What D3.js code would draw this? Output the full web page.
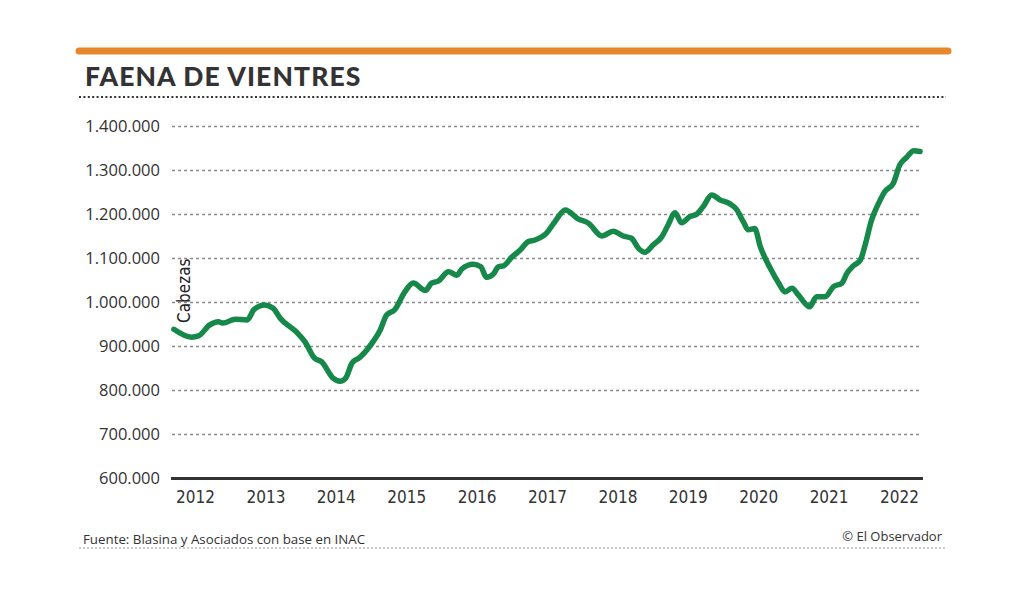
<!DOCTYPE html>
<html>
<head>
<meta charset="utf-8">
<script src="https://cdn.jsdelivr.net/npm/d3@7/dist/d3.min.js"></script>
<style>
  html, body { margin: 0; padding: 0; background: #ffffff; }
  svg { display: block; }
</style>
</head>
<body>
<svg id="chart" width="1024" height="597"></svg>
<script>
// ---- Data ----
const titulo = "FAENA DE VIENTRES";
const fuente = "Fuente: Blasina y Asociados con base en INAC";
const credito = "© El Observador";
const ejeY = "Cabezas";

// time as decimal year
const fecha = [2011.70, 2011.95, 2012.05, 2012.21, 2012.33, 2012.40, 2012.57, 2012.74, 2012.84, 2012.99,
  2013.11, 2013.21, 2013.44, 2013.56, 2013.70, 2013.80, 2013.96, 2014.06, 2014.14, 2014.23,
  2014.34, 2014.53, 2014.63, 2014.72, 2014.84, 2014.98, 2015.10, 2015.27, 2015.36, 2015.46,
  2015.60, 2015.72, 2015.79, 2015.95, 2016.06, 2016.14, 2016.24, 2016.31, 2016.38, 2016.50,
  2016.62, 2016.73, 2016.83, 2016.99, 2017.11, 2017.26, 2017.44, 2017.59, 2017.78, 2017.94,
  2018.08, 2018.20, 2018.30, 2018.39, 2018.51, 2018.63, 2018.72, 2018.82, 2018.91, 2019.03,
  2019.13, 2019.22, 2019.34, 2019.46, 2019.60, 2019.69, 2019.79, 2019.86, 2019.95, 2020.03,
  2020.17, 2020.29, 2020.38, 2020.48, 2020.57, 2020.69, 2020.73, 2020.83, 2020.95, 2021.07,
  2021.19, 2021.26, 2021.35, 2021.45, 2021.52, 2021.61, 2021.71, 2021.80, 2021.92, 2022.01,
  2022.11, 2022.21, 2022.30];

const cabezas = [938000, 920000, 923000, 948000, 955000, 952000, 961000, 959000, 983000, 993000,
  986000, 963000, 932000, 910000, 872000, 864000, 827000, 820000, 827000, 861000,
  874000, 910000, 936000, 970000, 983000, 1023000, 1043000, 1026000, 1043000, 1048000,
  1069000, 1061000, 1075000, 1086000, 1080000, 1056000, 1064000, 1080000, 1082000, 1102000,
  1118000, 1137000, 1141000, 1156000, 1182000, 1209000, 1189000, 1179000, 1150000, 1161000,
  1150000, 1145000, 1122000, 1113000, 1130000, 1148000, 1175000, 1203000, 1180000, 1194000,
  1200000, 1217000, 1243000, 1232000, 1223000, 1211000, 1182000, 1164000, 1167000, 1126000,
  1077000, 1043000, 1023000, 1031000, 1016000, 993000, 989000, 1012000, 1012000, 1035000,
  1043000, 1065000, 1082000, 1095000, 1130000, 1186000, 1224000, 1251000, 1270000, 1311000,
  1329000, 1344000, 1342000];

const anios = [2012, 2013, 2014, 2015, 2016, 2017, 2018, 2019, 2020, 2021, 2022];
const ticksY = [600000, 700000, 800000, 900000, 1000000, 1100000, 1200000, 1300000, 1400000];
const dominioX = [2011.673, 2022.327];

// ---- Layout ----
const svg = d3.select("#chart");
const plot = { left: 172, right: 922, top: 126, bottom: 478 };

const x = d3.scaleLinear().domain(dominioX).range([plot.left, plot.right]);
const y = d3.scaleLinear().domain([600000, 1400000]).range([plot.bottom, plot.top]);

const loc = d3.formatLocale({ decimal: ",", thousands: ".", grouping: [3], currency: ["$", ""] });
const fmt = loc.format(",");

// Orange top bar
svg.append("line")
  .attr("x1", 79).attr("x2", 948).attr("y1", 51).attr("y2", 51)
  .attr("stroke", "#e8862c").attr("stroke-width", 7).attr("stroke-linecap", "round");

// Title
svg.append("text")
  .attr("x", 85).attr("y", 86)
  .attr("font-family", "Lato, 'Open Sans', sans-serif")
  .attr("font-weight", 900)
  .attr("font-size", 26.5)
  .attr("letter-spacing", 1.1)
  .attr("fill", "#333333")
  .text(titulo);

// Dotted rule under title
svg.append("line")
  .attr("x1", 79).attr("x2", 946).attr("y1", 97).attr("y2", 97)
  .attr("stroke", "#333").attr("stroke-width", 2).attr("stroke-dasharray", "2,2.4");

// Gridlines
const grid = svg.append("g")
  .attr("transform", `translate(${plot.left},0)`)
  .call(d3.axisLeft(y).tickValues(ticksY).tickSize(-(plot.right - plot.left)).tickFormat(""));
grid.select(".domain").remove();
grid.selectAll(".tick line")
  .attr("stroke", "#8a8a8a")
  .attr("stroke-width", 1.3)
  .attr("stroke-dasharray", "3,3");
grid.selectAll(".tick").filter(d => d === 600000).select("line")
  .attr("stroke", "#333").attr("stroke-width", 3.2).attr("stroke-dasharray", null)
  .attr("x1", -1).attr("x2", plot.right - plot.left + 1);

// Y axis labels
const yAxis = svg.append("g")
  .attr("transform", `translate(${plot.left - 12},0)`)
  .call(d3.axisLeft(y).tickValues(ticksY).tickSize(0).tickPadding(0).tickFormat(fmt));
yAxis.select(".domain").remove();
yAxis.selectAll("text")
  .attr("font-family", "'Open Sans', sans-serif")
  .attr("font-size", 16.5)
  .attr("fill", "#333");

// X axis labels
const xAxis = svg.append("g")
  .attr("transform", `translate(0,${plot.bottom})`)
  .call(d3.axisBottom(x).tickValues(anios).tickSize(0).tickPadding(13).tickFormat(d3.format("d")));
xAxis.select(".domain").remove();
xAxis.selectAll("text")
  .attr("font-family", "'Liberation Sans Narrow', 'DejaVu Sans Condensed', sans-serif")
  .attr("font-size", 17)
  .attr("fill", "#333");

// Line
const datos = fecha.map((f, i) => ({ f, v: cabezas[i] }));
const linea = d3.line().x(d => x(d.f)).y(d => y(d.v)).curve(d3.curveMonotoneX);
svg.append("path")
  .datum(datos)
  .attr("d", linea)
  .attr("fill", "none")
  .attr("stroke", "#16894a")
  .attr("stroke-width", 5.5)
  .attr("stroke-linejoin", "round")
  .attr("stroke-linecap", "round");

// Y axis title
svg.append("text")
  .attr("transform", "translate(190,323) rotate(-90)")
  .attr("font-family", "'Liberation Sans Narrow', 'DejaVu Sans Condensed', sans-serif")
  .attr("font-size", 17)
  .attr("fill", "#222")
  .text(ejeY);

// Footer
svg.append("text")
  .attr("x", 83).attr("y", 544)
  .attr("font-family", "'Open Sans', sans-serif")
  .attr("font-size", 13.3)
  .attr("font-weight", 500)
  .attr("fill", "#333")
  .text(fuente);

svg.append("text")
  .attr("x", 942).attr("y", 541)
  .attr("text-anchor", "end")
  .attr("font-family", "'Open Sans', sans-serif")
  .attr("font-size", 13)
  .attr("font-weight", 500)
  .attr("fill", "#333")
  .text(credito);

svg.append("line")
  .attr("x1", 79).attr("x2", 946).attr("y1", 548).attr("y2", 548)
  .attr("stroke", "#9a9a9a").attr("stroke-width", 1.2).attr("stroke-dasharray", "2,2");
</script>
</body>
</html>
